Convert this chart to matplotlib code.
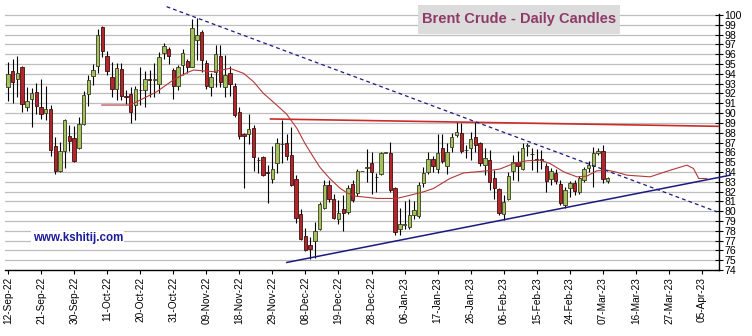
import numpy as np
import pandas as pd
import matplotlib
matplotlib.use("Agg")
import matplotlib.pyplot as plt
from matplotlib.patches import Rectangle

plt.rcParams['font.family'] = ['Liberation Sans', 'DejaVu Sans']

# one slot per weekday, 12-Sep-22 .. 08-Mar-23 (holidays drawn as flat dashes)
dates = pd.bdate_range('2022-09-12', '2023-03-08')

opens = [92.64, 94.24, 93.46, 94.68, 90.6, 91.48, 92.2, 90.67, 90.05, 90.4,
         86.65, 84.14, 86.18, 87.67, 87.5, 86.41, 88.86, 91.96, 93.73, 94.85,
         98.76, 95.85, 93.64, 92.48, 94.46, 91.75, 91.9, 90.82, 92.4, 92.35,
         93.45, 93.4, 92.96, 96.09, 96.5, 94.39, 92.76, 94.9, 95.34, 94.73,
         97.45, 98.23, 95.14, 92.62, 94.22, 95.82, 92.62, 94.12, 92.76, 90.14,
         87.85, 87.86, 88.44, 85.25, 85.48, 83.95, 83.23, 84.93, 86.8, 86.9,
         85.71, 83.23, 79.69, 77.45, 76.6, 76.94, 78.23, 80.37, 82.65, 81.29,
         79.18, 80.17, 79.93, 82.72, 81.87, 84.08, 84.4, 84.86, 83.5, 83.78,
         85.95, 85.88, 82.31, 78.23, 78.6, 78.4, 79.59, 79.49, 82.89, 84.01,
         85.27, 84.25, 86.39, 84.6, 86.5, 87.76, 87.93, 86.2, 86.39, 87.52,
         86.9, 84.69, 85.2, 83.33, 82.21, 79.69, 81.29, 84.11, 85.03, 84.25,
         86.6, 85.85, 85.3, 85.3, 84.59, 83.23, 83.9, 82.75, 80.6, 82.4,
         82.82, 82.0, 83.16, 84.35, 84.59, 85.88, 86.15, 83.09]
highs = [95.19, 95.5, 95.84, 94.75, 92.7, 92.54, 93.1, 93.46, 92.78, 90.84,
         87.6, 87.1, 89.37, 88.8, 88.7, 89.65, 92.3, 93.9, 94.99, 98.56,
         98.9, 96.36, 95.17, 95.07, 95.14, 92.4, 92.69, 92.76, 94.7, 94.3,
         94.4, 95.1, 96.26, 97.18, 96.77, 94.55, 94.9, 96.5, 95.5, 99.56,
         99.66, 98.47, 95.41, 94.05, 96.94, 96.94, 95.92, 94.8, 93.03, 90.65,
         87.93, 89.9, 88.78, 85.54, 85.6, 84.69, 86.63, 87.41, 89.29, 87.82,
         88.54, 83.67, 80.17, 78.3, 77.38, 78.91, 80.95, 83.16, 83.16, 81.8,
         81.12, 81.63, 82.65, 83.16, 84.25, 84.08, 86.3, 86.05, 83.91, 86.05,
         85.95, 87.07, 82.48, 80.3, 81.0, 81.29, 81.05, 82.99, 84.52, 86.05,
         85.61, 87.86, 87.86, 87.0, 87.93, 89.08, 88.95, 86.73, 88.1, 89.08,
         87.1, 86.39, 86.22, 84.18, 82.31, 81.6, 84.01, 85.71, 86.15, 86.9,
         86.94, 86.39, 86.3, 86.2, 84.86, 84.45, 84.3, 83.16, 82.5, 83.1,
         83.2, 83.6, 84.5, 85.1, 86.56, 86.4, 86.73, 83.5]
lows = [91.24, 91.07, 91.69, 90.16, 90.26, 88.56, 89.9, 89.37, 89.3, 85.63,
        83.76, 84.03, 84.37, 86.18, 85.05, 86.3, 88.8, 90.73, 92.88, 94.07,
        95.7, 93.88, 91.6, 91.33, 91.33, 90.9, 88.95, 89.29, 90.8, 90.65,
        91.6, 91.6, 92.0, 95.48, 95.0, 91.4, 92.4, 93.88, 94.1, 94.7,
        95.4, 94.2, 92.41, 91.73, 92.69, 92.62, 91.6, 91.73, 89.56, 87.31,
        82.41, 86.84, 84.12, 83.91, 83.57, 80.85, 82.89, 83.91, 84.86, 85.2,
        82.55, 78.81, 77.04, 75.9, 75.17, 75.2, 78.06, 80.27, 80.95, 79.15,
        78.74, 77.96, 79.76, 80.95, 81.53, 84.08, 83.0, 81.77, 81.97, 83.7,
        85.95, 81.97, 77.55, 77.6, 78.2, 78.23, 79.15, 79.35, 82.48, 83.78,
        84.01, 83.9, 84.86, 83.8, 86.05, 87.59, 85.95, 85.37, 85.2, 86.05,
        84.6, 83.67, 82.14, 81.29, 79.59, 79.1, 81.16, 83.16, 83.09, 84.18,
        85.65, 84.18, 84.01, 84.3, 81.97, 82.65, 82.8, 80.61, 80.3, 81.4,
        81.63, 81.7, 83.0, 84.0, 82.48, 85.7, 82.82, 82.9]
closes = [94.0, 93.22, 94.07, 90.9, 91.28, 92.03, 90.73, 89.88, 90.43, 86.24,
          84.14, 86.18, 89.31, 87.2, 85.16, 88.9, 91.82, 93.35, 94.37, 97.98,
          96.28, 94.32, 92.48, 94.56, 91.73, 91.62, 90.14, 92.41, 92.33, 93.44,
          93.38, 93.45, 95.68, 96.87, 95.82, 92.76, 94.66, 96.16, 94.73, 98.64,
          97.96, 95.4, 92.76, 93.64, 96.02, 93.2, 93.88, 92.93, 89.8, 87.65,
          87.7, 88.33, 85.48, 85.2, 83.67, 83.9, 84.25, 86.9, 86.88, 85.61,
          82.65, 79.35, 77.21, 76.09, 76.19, 77.96, 80.68, 82.65, 81.29, 79.35,
          79.83, 79.83, 82.31, 81.12, 84.08, 84.08, 84.55, 84.01, 83.45, 85.95,
          85.95, 82.14, 77.89, 78.67, 78.74, 79.59, 80.1, 82.65, 83.91, 85.27,
          84.59, 85.88, 85.14, 86.05, 87.59, 88.1, 86.16, 86.25, 87.32, 86.73,
          84.86, 85.37, 82.99, 82.31, 79.85, 80.95, 83.6, 85.03, 84.6, 86.39,
          86.7, 85.8, 85.25, 85.25, 83.09, 84.11, 83.09, 80.85, 82.2, 82.85,
          82.07, 83.33, 84.25, 84.69, 85.95, 86.15, 83.23, 83.33]

# moving average (slot, price)
ma_slot = [19.85, 25.85, 27.3, 31.5, 35.0, 37.9, 39.3, 43.5, 47.0, 49.9,
           52.0, 54.1, 56.9, 59.0, 61.2, 62.9, 64.7, 66.1, 68.2, 70.3,
           71.7, 73.5, 75.3, 78.1, 82.3, 85.2, 88.0, 90.1, 93.6, 96.5,
           99.3, 102.1, 104.2, 107.1, 109.9, 112.7, 114.8, 117.7, 120.5, 122.6,
           124.7, 126.8, 128.6, 131.1, 136.0, 140.3, 143.8, 145.2, 146.3, 148.0]
ma_price = [90.82, 90.82, 91.16, 92.18, 93.37, 94.12, 94.39, 94.22, 94.56, 94.05,
            93.2, 92.01, 90.82, 89.9, 88.44, 86.9, 85.5, 84.45, 83.3, 82.35,
            81.9, 81.53, 81.45, 81.3, 81.29, 81.63, 81.97, 82.31, 83.33, 83.9,
            84.01, 84.15, 84.3, 84.86, 85.14, 85.2, 84.86, 84.01, 83.5, 83.57,
            84.11, 84.18, 84.01, 83.67, 83.5, 84.18, 84.69, 84.35, 83.33, 83.33]

# trend lines (slot, price)
down_slot, down_price = [33.6, 150.2], [100.85, 79.93]
up_slot, up_price = [59.05, 153.0], [74.77, 83.67]
res_slot, res_price = [55.6, 150.6], [89.4, 88.65]

tick_labels = ['12-Sep-22', '21-Sep-22', '30-Sep-22', '11-Oct-22', '20-Oct-22',
               '31-Oct-22', '09-Nov-22', '18-Nov-22', '29-Nov-22', '08-Dec-22',
               '19-Dec-22', '28-Dec-22', '06-Jan-23', '17-Jan-23', '26-Jan-23',
               '06-Feb-23', '15-Feb-23', '24-Feb-23', '07-Mar-23', '16-Mar-23',
               '27-Mar-23', '05-Apr-23']

fig = plt.figure(figsize=(7.52, 3.36), dpi=100)
ax = fig.add_axes([5 / 752, 66 / 336, 714 / 752, 270 / 336])

x = np.arange(len(dates))
o = np.array(opens)
h = np.array(highs)
l = np.array(lows)
c = np.array(closes)
up = c >= o

ax.vlines(x, l, h, color='black', lw=0.8, zorder=2)
body_lo = np.minimum(o, c)
body_h = np.maximum(np.abs(c - o), 0.06)
ax.bar(x[up], body_h[up], bottom=body_lo[up], width=0.72,
       color='#a3c25e', edgecolor='#3a3a20', lw=0.6, zorder=3)
ax.bar(x[~up], body_h[~up], bottom=body_lo[~up], width=0.72,
       color='#b3262b', edgecolor='#3a1010', lw=0.6, zorder=3)

ax.plot(ma_slot, ma_price, color='#b23a3a', lw=0.8, zorder=4)
ax.plot(res_slot, res_price, color='#cc2b2b', lw=1.2, zorder=4)
ax.plot(down_slot, down_price, color='#1a1a80', lw=0.9, ls=(0, (3, 2.5)), zorder=4)
ax.plot(up_slot, up_price, color='#1a1a80', lw=1.1, zorder=4, clip_on=False)

ax.set_xlim(-0.64, 150.6)
ax.set_ylim(74, 101.53)

for v in range(75, 101):
    ax.axhline(v, color='#bdbdbd', lw=0.9, zorder=0)

ax.set_xticks(np.arange(len(tick_labels)) * 7)
ax.set_xticklabels(tick_labels, rotation=90, fontsize=7.3)
ax.set_yticks(range(74, 101))
ax.yaxis.tick_right()
ax.tick_params(axis='y', direction='inout', length=6, width=0.8, pad=1, labelsize=7.6)
ax.tick_params(axis='x', direction='out', length=3, width=0.8, pad=2)

ax.spines['top'].set_visible(False)
ax.spines['left'].set_visible(False)
ax.spines['right'].set_bounds(74, 100.1)
ax.spines['right'].set_linewidth(1.0)
ax.spines['bottom'].set_linewidth(1.0)

ax.text(14.8, 77.25, 'www.kshitij.com', color='#1c1c9a', fontsize=8.3,
        fontweight='bold', ha='center', va='center', zorder=5,
        bbox=dict(facecolor='white', edgecolor='none', pad=1))

fig.patches.append(Rectangle((418 / 752, 1 - 34 / 336), 202 / 752, 29 / 336,
                             transform=fig.transFigure, facecolor='#dcdcdc',
                             edgecolor='none', zorder=10))
fig.text(519 / 752, 1 - 19.5 / 336, 'Brent Crude - Daily Candles', color='#8f3a68',
         fontsize=10.5, fontweight='bold', ha='center', va='center', zorder=11)

fig.savefig('out.png', dpi=100)
